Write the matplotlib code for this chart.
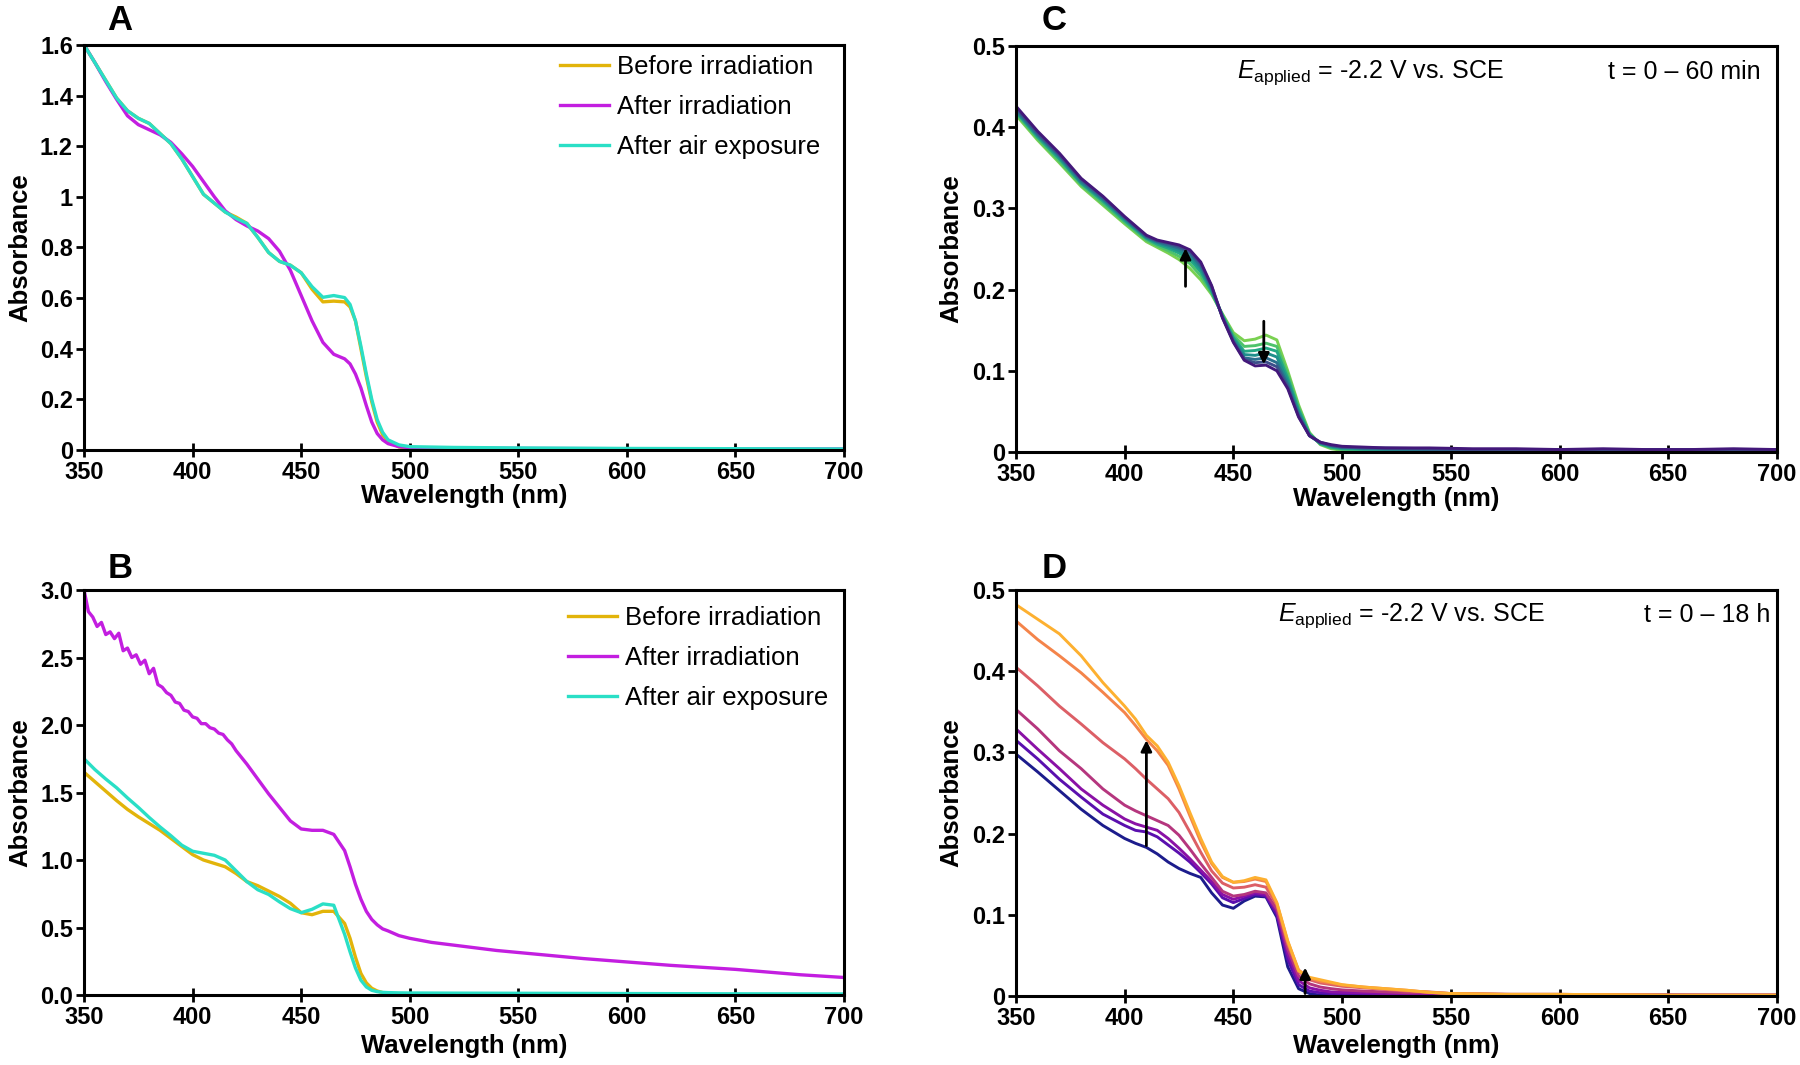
import matplotlib
matplotlib.use('Agg')
import matplotlib.pyplot as plt

plt.rcParams['font.family'] = ['Liberation Sans', 'DejaVu Sans']
plt.rcParams['mathtext.fontset'] = 'custom'
plt.rcParams['mathtext.rm'] = 'Liberation Sans'
plt.rcParams['mathtext.it'] = 'Liberation Sans:italic'
plt.rcParams['lines.solid_joinstyle'] = 'round'

# ---- panel A ----
wl_a = [350, 355, 360, 365, 370, 375, 380, 385, 390, 395, 400, 405, 410, 415, 420, 425, 430, 435,
        440, 445, 450, 455, 460, 465, 470, 472.5, 475, 477.5, 480, 482.5, 485, 487.5, 490, 495, 500,
        520, 550, 600, 650, 700]
a_before = [1.60, 1.53, 1.46, 1.39, 1.34, 1.31, 1.29, 1.25, 1.21, 1.15, 1.08, 1.01, 0.975, 0.94, 0.92, 0.895,
            0.84, 0.78, 0.745, 0.73, 0.70, 0.635, 0.585, 0.588, 0.585, 0.565, 0.51, 0.40, 0.29, 0.19, 0.11,
            0.06, 0.035, 0.012, 0.004, 0.002, 0.002, 0.001, 0.001, 0.001]
a_after = [1.60, 1.53, 1.455, 1.385, 1.32, 1.285, 1.265, 1.245, 1.215, 1.17, 1.12, 1.06, 1.0, 0.945, 0.91, 0.885,
           0.865, 0.835, 0.785, 0.71, 0.61, 0.51, 0.425, 0.378, 0.36, 0.34, 0.30, 0.245, 0.175, 0.11, 0.065,
           0.04, 0.025, 0.013, 0.009, 0.007, 0.006, 0.005, 0.004, 0.004]
a_air = [1.60, 1.53, 1.46, 1.39, 1.34, 1.31, 1.29, 1.25, 1.21, 1.15, 1.08, 1.01, 0.975, 0.94, 0.915, 0.895,
         0.84, 0.78, 0.745, 0.73, 0.70, 0.645, 0.603, 0.61, 0.602, 0.575, 0.51, 0.41, 0.30, 0.20, 0.12,
         0.07, 0.04, 0.02, 0.013, 0.010, 0.008, 0.006, 0.005, 0.004]

# ---- panel B ----
wl_b = wl_a
b_before = [1.65, 1.58, 1.51, 1.44, 1.375, 1.32, 1.27, 1.22, 1.16, 1.10, 1.04, 1.0, 0.975, 0.95, 0.90, 0.84,
            0.81, 0.77, 0.73, 0.68, 0.61, 0.595, 0.62, 0.62, 0.53, 0.42, 0.28, 0.16, 0.09, 0.05, 0.03,
            0.018, 0.012, 0.006, 0.004, 0.003, 0.003, 0.002, 0.002, 0.002]
b_air = [1.75, 1.67, 1.60, 1.535, 1.46, 1.39, 1.315, 1.245, 1.18, 1.11, 1.065, 1.05, 1.035, 1.0, 0.92, 0.84,
         0.78, 0.745, 0.69, 0.64, 0.61, 0.635, 0.675, 0.665, 0.45, 0.32, 0.20, 0.11, 0.06, 0.035, 0.025,
         0.02, 0.018, 0.016, 0.015, 0.014, 0.013, 0.011, 0.009, 0.008]
wl_b_irr = [350, 352, 354, 356, 358, 360, 362, 364, 366, 368, 370, 372, 374, 376, 378, 380, 382, 384,
            386, 388, 390, 392, 394, 396, 398, 400, 402, 404, 406, 408, 410, 412, 414, 416, 418, 420,
            425, 430, 435, 440, 445, 450, 455, 460, 465, 470, 472.5, 475, 477.5, 480, 482.5, 485, 487.5,
            490, 495, 500, 510, 520, 540, 560, 580, 600, 620, 650, 680, 700]
b_after = [3.00, 2.84, 2.80, 2.73, 2.76, 2.67, 2.69, 2.64, 2.68, 2.55, 2.57, 2.50, 2.52, 2.45, 2.48, 2.38,
           2.42, 2.30, 2.28, 2.24, 2.22, 2.17, 2.16, 2.11, 2.10, 2.06, 2.05, 2.01, 2.01, 1.98, 1.97, 1.94,
           1.93, 1.89, 1.86, 1.81,
           1.71, 1.60, 1.49, 1.39, 1.29, 1.23, 1.22, 1.22, 1.19, 1.07, 0.95, 0.82, 0.71, 0.62, 0.56, 0.52,
           0.49, 0.475, 0.44, 0.42,
           0.39, 0.37, 0.33, 0.30, 0.27, 0.245, 0.22, 0.19, 0.15, 0.13]

# ---- panel C (t = 0 - 60 min) ----
wl_c = [350, 360, 370, 380, 390, 400, 410, 415, 420, 425, 430, 435, 440, 445, 450, 455, 460, 465,
        470, 475, 480, 485, 490, 495, 500, 510, 520, 540, 560, 580, 600, 620, 640, 660, 680, 700]
c_spectra = [
    [0.415, 0.384, 0.356, 0.327, 0.304, 0.281, 0.259, 0.252, 0.245, 0.237, 0.226, 0.212, 0.194, 0.170, 0.147, 0.137,
     0.139, 0.144, 0.138, 0.100, 0.058, 0.024, 0.009, 0.004, 0.002, 0.001, 0.001, 0.000, 0.001, 0.000, 0.000, 0.001,
     0.000, 0.000, 0.001, 0.000],
    [0.417, 0.386, 0.358, 0.329, 0.306, 0.283, 0.261, 0.254, 0.248, 0.241, 0.232, 0.217, 0.196, 0.169, 0.144, 0.130,
     0.131, 0.134, 0.130, 0.096, 0.055, 0.023, 0.010, 0.005, 0.003, 0.002, 0.001, 0.001, 0.001, 0.001, 0.000, 0.001,
     0.001, 0.000, 0.001, 0.001],
    [0.419, 0.388, 0.361, 0.331, 0.309, 0.285, 0.263, 0.256, 0.251, 0.245, 0.237, 0.222, 0.198, 0.168, 0.141, 0.124,
     0.125, 0.128, 0.124, 0.091, 0.052, 0.022, 0.010, 0.006, 0.004, 0.003, 0.002, 0.002, 0.001, 0.002, 0.001, 0.001,
     0.002, 0.001, 0.001, 0.002],
    [0.420, 0.390, 0.363, 0.332, 0.311, 0.287, 0.264, 0.258, 0.253, 0.248, 0.241, 0.226, 0.200, 0.167, 0.139, 0.120,
     0.119, 0.122, 0.117, 0.087, 0.049, 0.021, 0.011, 0.007, 0.005, 0.004, 0.003, 0.002, 0.002, 0.002, 0.002, 0.002,
     0.002, 0.001, 0.002, 0.002],
    [0.422, 0.391, 0.365, 0.334, 0.312, 0.288, 0.265, 0.259, 0.255, 0.251, 0.245, 0.229, 0.202, 0.166, 0.137, 0.116,
     0.114, 0.116, 0.110, 0.083, 0.046, 0.020, 0.011, 0.008, 0.006, 0.005, 0.004, 0.003, 0.003, 0.002, 0.003, 0.002,
     0.003, 0.002, 0.002, 0.003],
    [0.424, 0.393, 0.366, 0.336, 0.314, 0.289, 0.266, 0.260, 0.257, 0.253, 0.247, 0.232, 0.204, 0.166, 0.136, 0.114,
     0.110, 0.111, 0.105, 0.080, 0.044, 0.020, 0.012, 0.008, 0.006, 0.005, 0.005, 0.004, 0.003, 0.003, 0.003, 0.003,
     0.003, 0.003, 0.002, 0.003],
    [0.426, 0.395, 0.368, 0.337, 0.315, 0.290, 0.267, 0.261, 0.258, 0.255, 0.249, 0.234, 0.205, 0.165, 0.135, 0.113,
     0.106, 0.107, 0.100, 0.078, 0.043, 0.020, 0.012, 0.009, 0.007, 0.006, 0.005, 0.005, 0.004, 0.004, 0.003, 0.004,
     0.003, 0.003, 0.004, 0.003],
]
arrows_c = [(428, 0.204, 0.251), (464, 0.161, 0.108)]

# ---- panel D (t = 0 - 18 h) ----
wl_d = [350, 360, 370, 380, 390, 400, 405, 410, 415, 420, 425, 430, 435, 440, 445, 450, 455, 460,
        465, 470, 475, 480, 485, 490, 495, 500, 510, 520, 530, 540, 550, 575, 600, 650, 700]
d_spectra = [
    [0.298, 0.276, 0.253, 0.230, 0.210, 0.194, 0.188, 0.183, 0.175, 0.165, 0.157, 0.151, 0.146, 0.127, 0.112, 0.108,
     0.117, 0.123, 0.122, 0.097, 0.036, 0.009, 0.003, 0.001, 0.001, 0.001, 0.000, 0.000, 0.000, 0.000, 0.000, 0.001,
     0.000, 0.001, 0.000],
    [0.315, 0.292, 0.267, 0.245, 0.224, 0.210, 0.204, 0.202, 0.196, 0.186, 0.176, 0.165, 0.152, 0.138, 0.121, 0.115,
     0.120, 0.125, 0.123, 0.100, 0.045, 0.014, 0.006, 0.004, 0.003, 0.0025, 0.002, 0.002, 0.001, 0.001, 0.001, 0.001,
     0.001, 0.001, 0.001],
    [0.329, 0.304, 0.280, 0.255, 0.235, 0.218, 0.212, 0.208, 0.204, 0.194, 0.182, 0.169, 0.155, 0.141, 0.125, 0.119,
     0.123, 0.127, 0.125, 0.104, 0.052, 0.019, 0.010, 0.007, 0.005, 0.0045, 0.004, 0.003, 0.003, 0.002, 0.002, 0.002,
     0.001, 0.001, 0.001],
    [0.353, 0.329, 0.302, 0.280, 0.255, 0.235, 0.228, 0.222, 0.216, 0.210, 0.198, 0.181, 0.163, 0.146, 0.129, 0.123,
     0.125, 0.129, 0.127, 0.107, 0.058, 0.025, 0.015, 0.011, 0.009, 0.0075, 0.006, 0.005, 0.004, 0.004, 0.003, 0.002,
     0.002, 0.001, 0.001],
    [0.405, 0.382, 0.357, 0.335, 0.312, 0.292, 0.280, 0.267, 0.255, 0.243, 0.226, 0.202, 0.177, 0.154, 0.139, 0.133,
     0.134, 0.137, 0.134, 0.112, 0.064, 0.030, 0.020, 0.016, 0.014, 0.012, 0.010, 0.008, 0.006, 0.005, 0.003, 0.002,
     0.002, 0.001, 0.001],
    [0.462, 0.439, 0.419, 0.398, 0.374, 0.349, 0.333, 0.316, 0.302, 0.284, 0.255, 0.222, 0.190, 0.163, 0.146, 0.140,
     0.141, 0.144, 0.141, 0.114, 0.067, 0.032, 0.022, 0.018, 0.016, 0.0135, 0.011, 0.009, 0.007, 0.0045, 0.003, 0.002,
     0.002, 0.001, 0.001],
    [0.482, 0.464, 0.446, 0.419, 0.386, 0.357, 0.341, 0.321, 0.308, 0.288, 0.259, 0.226, 0.194, 0.165, 0.147, 0.140,
     0.142, 0.146, 0.143, 0.115, 0.068, 0.031, 0.023, 0.020, 0.017, 0.014, 0.011, 0.009, 0.007, 0.0045, 0.003, 0.002,
     0.002, 0.001, 0.001],
]
arrows_d = [(410, 0.185, 0.315), (483, 0.003, 0.035)]

labels_ab = ['Before irradiation', 'After irradiation', 'After air exposure']
colors_ab = ['#E2B40A', '#C31EE0', '#2ADFC6']
colors_c = ['#7AD151', '#4EC36B', '#22A884', '#1F8F8C', '#2A6F8E', '#3B4F8A', '#43187A']
colors_d = ['#1C1C8C', '#5A0FAE', '#8A11A6', '#B5367E', '#DC5F66', '#F4844A', '#FDB030']


def style_axes(ax, yticks, yticklabels, ymax, xlab_y, ylab_x):
    ax.set_xlim(350, 700)
    ax.set_ylim(0, ymax)
    ax.set_xticks(range(350, 701, 50))
    ax.set_yticks(yticks)
    ax.set_yticklabels(yticklabels)
    for s in ax.spines.values():
        s.set_linewidth(2.2)
    ax.tick_params(axis='x', direction='inout', length=10, width=2, pad=3, labelsize=17)
    ax.tick_params(axis='y', direction='out', length=5.5, width=2, pad=2.5, labelsize=17)
    for lab in ax.get_xticklabels() + ax.get_yticklabels():
        lab.set_fontweight('bold')
    ax.set_xlabel('Wavelength (nm)', fontsize=18.5, fontweight='bold', va='center')
    ax.set_ylabel('Absorbance', fontsize=18.5, fontweight='bold', va='center')
    ax.xaxis.set_label_coords(0.5, xlab_y)
    ax.yaxis.set_label_coords(ylab_x, 0.5)


fig = plt.figure(figsize=(18, 10.65), dpi=100)
ax_a = fig.add_axes([0.0467, 0.5775, 0.4222, 0.3803])
ax_b = fig.add_axes([0.0467, 0.0657, 0.4222, 0.3803])
ax_c = fig.add_axes([0.5644, 0.5756, 0.4228, 0.3812])
ax_d = fig.add_axes([0.5644, 0.0648, 0.4228, 0.3812])

for y, lab, col in zip([a_before, a_after, a_air], labels_ab, colors_ab):
    ax_a.plot(wl_a, y, color=col, lw=2.4, label=lab)
style_axes(ax_a, [0, 0.2, 0.4, 0.6, 0.8, 1.0, 1.2, 1.4, 1.6],
           ['0', '0.2', '0.4', '0.6', '0.8', '1', '1.2', '1.4', '1.6'], 1.6, -0.113, -0.084)
ax_a.legend(loc='upper left', bbox_to_anchor=(0.626, 0.974), frameon=False, fontsize=18.5,
            borderpad=0, borderaxespad=0, handlelength=1.9, handletextpad=0.33, labelspacing=0.62)

ax_b.plot(wl_b, b_before, color=colors_ab[0], lw=2.4, label=labels_ab[0])
ax_b.plot(wl_b_irr, b_after, color=colors_ab[1], lw=2.4, label=labels_ab[1])
ax_b.plot(wl_b, b_air, color=colors_ab[2], lw=2.4, label=labels_ab[2])
style_axes(ax_b, [0, 0.5, 1.0, 1.5, 2.0, 2.5, 3.0],
           ['0.0', '0.5', '1.0', '1.5', '2.0', '2.5', '3.0'], 3.0, -0.126, -0.084)
ax_b.legend(loc='upper left', bbox_to_anchor=(0.637, 0.96), frameon=False, fontsize=18.5,
            borderpad=0, borderaxespad=0, handlelength=1.9, handletextpad=0.33, labelspacing=0.62)

for y, col in zip(c_spectra, colors_c):
    ax_c.plot(wl_c, y, color=col, lw=2.1)
style_axes(ax_c, [0, 0.1, 0.2, 0.3, 0.4, 0.5], ['0', '0.1', '0.2', '0.3', '0.4', '0.5'],
           0.5, -0.115, -0.085)
ax_c.text(0.29, 0.935, r'$\mathit{E}_{\mathrm{applied}}$ = -2.2 V vs. SCE', transform=ax_c.transAxes,
          fontsize=18, ha='left', va='center')
ax_c.text(0.978, 0.935, 't = 0 \u2013 60 min', transform=ax_c.transAxes,
          fontsize=18, ha='right', va='center')

for y, col in zip(d_spectra, colors_d):
    ax_d.plot(wl_d, y, color=col, lw=2.1)
style_axes(ax_d, [0, 0.1, 0.2, 0.3, 0.4, 0.5], ['0', '0.1', '0.2', '0.3', '0.4', '0.5'],
           0.5, -0.124, -0.085)
ax_d.text(0.344, 0.938, r'$\mathit{E}_{\mathrm{applied}}$ = -2.2 V vs. SCE', transform=ax_d.transAxes,
          fontsize=18, ha='left', va='center')
ax_d.text(0.992, 0.938, 't = 0 \u2013 18 h', transform=ax_d.transAxes,
          fontsize=18, ha='right', va='center')

for ax, arrows in [(ax_c, arrows_c), (ax_d, arrows_d)]:
    for x, y0, y1 in arrows:
        ax.annotate('', xy=(x, y1), xytext=(x, y0),
                    arrowprops=dict(arrowstyle='-|>', color='black', lw=2,
                                    mutation_scale=16, shrinkA=0, shrinkB=0))

for txt, x, y in [('A', 120, 20), ('B', 120, 568), ('C', 1054, 20), ('D', 1054, 568)]:
    fig.text(x / 1800, 1 - y / 1065, txt, fontsize=25, fontweight='bold', ha='center', va='center')

fig.savefig('out.png', dpi=100, facecolor='white')
